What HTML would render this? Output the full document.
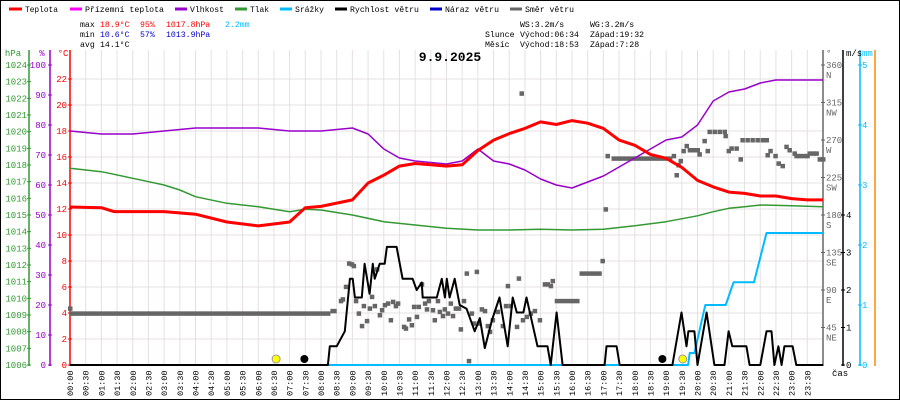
<!DOCTYPE html>
<html><head><meta charset="utf-8">
<style>
html,body{margin:0;padding:0;background:#fff}
svg{display:block}
text{font-family:"Liberation Mono",monospace}
</style></head>
<body>
<svg id="chart" width="900" height="400" viewBox="0 0 900 400" xmlns="http://www.w3.org/2000/svg">
<rect x="0.5" y="0.5" width="899" height="399" fill="#fff" stroke="#000"/>
<g id="grid"></g>
<g id="legend" font-size="8.2">
 <g><line x1="9" y1="9" x2="22" y2="9" stroke="#f00" stroke-width="3"/><text x="25" y="12" textLength="33" lengthAdjust="spacingAndGlyphs">Teplota</text></g>
 <g><line x1="70" y1="9" x2="82" y2="9" stroke="#f0f" stroke-width="3"/><text x="85" y="12" textLength="79" lengthAdjust="spacingAndGlyphs">Přízemní teplota</text></g>
 <g><line x1="175" y1="9" x2="187" y2="9" stroke="#90c" stroke-width="3"/><text x="190" y="12" textLength="34" lengthAdjust="spacingAndGlyphs">Vlhkost</text></g>
 <g><line x1="235" y1="9" x2="247" y2="9" stroke="#393" stroke-width="3"/><text x="250" y="12" textLength="19" lengthAdjust="spacingAndGlyphs">Tlak</text></g>
 <g><line x1="280" y1="9" x2="292" y2="9" stroke="#0bf" stroke-width="3"/><text x="295" y="12" textLength="29" lengthAdjust="spacingAndGlyphs">Srážky</text></g>
 <g><line x1="335" y1="9" x2="347" y2="9" stroke="#000" stroke-width="3"/><text x="350" y="12" textLength="69" lengthAdjust="spacingAndGlyphs">Rychlost větru</text></g>
 <g><line x1="430" y1="9" x2="442" y2="9" stroke="#00c" stroke-width="3"/><text x="445" y="12" textLength="54" lengthAdjust="spacingAndGlyphs">Náraz větru</text></g>
 <g><line x1="510" y1="9" x2="522" y2="9" stroke="#666" stroke-width="3"/><text x="525" y="12" textLength="49" lengthAdjust="spacingAndGlyphs">Směr větru</text></g>
</g>
<g id="stats" font-size="8.2">
 <text x="80" y="27">max</text><text x="100" y="27" fill="#f00">18.9°C</text><text x="140" y="27" fill="#f00">95%</text><text x="166" y="27" fill="#f00">1017.8hPa</text><text x="225" y="27" fill="#0bf">2.2mm</text>
 <text x="80" y="37">min</text><text x="100" y="37" fill="#00c">10.6°C</text><text x="140" y="37" fill="#00c">57%</text><text x="166" y="37" fill="#00c">1013.9hPa</text>
 <text x="80" y="47">avg</text><text x="100" y="47">14.1°C</text>
 <text x="520" y="27">WS:3.2m/s</text><text x="590" y="27">WG:3.2m/s</text>
 <text x="485" y="37">Slunce</text><text x="520" y="37">Východ:06:34</text><text x="590" y="37">Západ:19:32</text>
 <text x="485" y="47">Měsíc</text><text x="520" y="47">Východ:18:53</text><text x="590" y="47">Západ:7:28</text>
</g>
<text x="450" y="61" text-anchor="middle" font-size="13" font-weight="bold">9.9.2025</text>
<g id="axes"></g>
<g id="series"></g>
</svg>
<script>
const tempT=[0,1,1.4,2,3,4,5,6,7,7.5,8,9,9.5,10,10.5,11,11.5,12,12.5,13,13.5,14,14.5,15,15.5,16,16.5,17,17.5,18,18.5,19,19.5,20,20.5,21,21.5,22,22.5,23,23.5,24];
const tempV=[12.15,12.1,11.8,11.8,11.8,11.6,11.0,10.7,11.0,12.1,12.2,12.7,14.0,14.6,15.3,15.5,15.4,15.3,15.4,16.5,17.3,17.8,18.2,18.7,18.5,18.8,18.6,18.2,17.3,16.9,16.2,15.9,15.2,14.2,13.7,13.3,13.2,13.0,13.0,12.8,12.7,12.7];
const humT=[0,1,2,3,4,5,6,7,8,9,9.5,10,10.5,11,12,12.5,13,13.5,14,14.5,15,15.5,16,16.5,17,17.5,18,18.5,19,19.5,20,20.5,21,21.5,22,22.5,23,24];
const humV=[78,77,77,78,79,79,79,78,78,79,77,72,69,68,67,68,72,68,67,65,62,60,59,61,63,66,69,72,75,76,80,88,91,92,94,95,95,95];
const presT=[0,1,2,3,3.5,4,5,6,7,7.5,8,9,10,11,12,13,14,15,16,17,18,19,20,20.5,21,21.5,22,23,24];
const presV=[1017.8,1017.6,1017.2,1016.8,1016.5,1016.1,1015.7,1015.5,1015.2,1015.35,1015.3,1015.0,1014.6,1014.4,1014.2,1014.1,1014.1,1014.15,1014.1,1014.15,1014.35,1014.6,1014.95,1015.2,1015.4,1015.5,1015.6,1015.55,1015.5];
const windT=[0,8.22,8.28,8.5,8.76,8.92,9.01,9.08,9.3,9.39,9.55,9.65,9.71,9.87,10.03,10.1,10.41,10.6,10.92,11.05,11.21,11.24,11.56,11.69,11.85,11.95,12.01,12.1,12.26,12.42,12.64,12.9,13.06,13.22,13.45,13.69,13.95,14.11,14.24,14.45,14.55,14.9,15.22,15.32,15.51,15.7,17.04,17.1,17.42,17.52,19.2,19.49,19.65,19.71,19.9,20.0,20.29,20.54,20.86,20.99,21.11,21.56,21.66,22.0,22.2,22.36,22.45,22.58,22.68,22.77,23.03,23.15,24];
const windV=[0,0,0.5,0.5,0.9,2.3,2.3,1.8,1.8,2.7,1.9,2.7,2.3,2.7,2.7,3.15,3.15,2.3,2.3,2.0,2.2,1.8,1.8,1.8,2.3,1.8,2.3,1.8,2.3,1.6,1.5,0.9,1.25,0.45,1.2,1.8,0.5,1.8,1.4,1.4,1.8,0.5,0.5,0,1.4,0,0,0.5,0.5,0,0,1.4,0.5,0.9,0.9,0,1.4,0,0,0.9,0.5,0.5,0,0,0.9,0.9,0,0.5,0,0.5,0.5,0,0];
const rainT=[8.2,19.7,19.75,19.9,20.25,20.9,21.15,21.8,22.2,24];
const rainV=[0,0,0.2,0.2,1.0,1.0,1.38,1.38,2.2,2.2];
const dirSegStart=[0,8.3,15.45,16.24,17.26];
const dirSegEnd=[8.3,8.5,16.24,16.95,19.2];
const dirSegDeg=[62,65,77,110,248];
const dirT=[0,8.63,8.69,8.79,8.89,8.98,9.04,9.11,9.2,9.3,9.36,9.46,9.55,9.62,9.71,9.78,9.87,9.94,10.03,10.13,10.22,10.29,10.38,10.45,10.64,10.7,10.8,10.89,10.96,11.05,11.11,11.21,11.31,11.37,11.43,11.56,11.62,11.72,11.78,11.88,11.94,12.04,12.13,12.2,12.29,12.39,12.45,12.55,12.64,12.71,12.8,12.87,12.96,13.03,13.12,13.22,13.31,13.38,13.47,13.63,13.79,13.89,13.95,14.04,14.24,14.3,14.39,14.43,14.55,14.68,14.81,14.97,15.13,15.22,15.32,15.38,16.97,17.07,17.13,19.24,19.33,19.39,19.46,19.55,19.65,19.75,19.87,20.0,20.06,20.22,20.32,20.38,20.54,20.7,20.86,20.89,20.99,21.08,21.24,21.37,21.43,21.59,21.75,21.91,22.07,22.2,22.23,22.32,22.48,22.58,22.71,22.83,22.93,23.09,23.15,23.25,23.38,23.5,23.57,23.69,23.79,23.89,24];
const dirD=[68,77,79,94,122,121,119,77,62,47,71,53,68,82,71,115,60,66,72,74,54,76,71,74,46,44,55,48,70,58,70,97,74,67,77,66,54,77,64,59,67,62,74,59,68,68,43,77,110,5,62,50,112,50,67,65,47,40,54,64,47,71,95,71,46,104,326,54,58,62,65,54,97,97,95,101,125,187,251,251,228,240,245,257,263,258,258,258,253,269,257,280,280,280,280,275,257,260,260,247,270,270,270,270,270,270,252,257,251,242,239,262,258,254,251,251,251,251,254,254,254,247,247];
const hpaTicks=[1006,1007,1008,1009,1010,1011,1012,1013,1014,1015,1016,1017,1018,1019,1020,1021,1022,1023,1024];
const humTicks=[0,10,20,30,40,50,60,70,80,90,100];
const tempTicks=[0,2,4,6,8,10,12,14,16,18,20,22];
const dirTicks=[45,90,135,180,225,270,315,360];
const dirNames=["NE","E","SE","S","SW","W","NW","N"];
const wsTicks=[0,1,2,3,4];
const mmTicks=[0,1,2,3,4,5];
const sunT=[6.57,19.53];
const moonT=[7.47,18.88];

const NS="http://www.w3.org/2000/svg";
const X0=70,X1=823,Y0=365,YT=50;
const xs=t=>X0+t*(X1-X0)/24;
const yT=v=>Y0-v*13;
const yH=v=>Y0-v*3;
const yP=v=>Y0-(v-1006)*300/18;
const yW=v=>Y0-v*300/8;
const yR=v=>Y0-v*60;
const yD=v=>Y0-v*300/360;
function mk(tag,attrs,parent){const e=document.createElementNS(NS,tag);for(const k in attrs)e.setAttribute(k,attrs[k]);parent.appendChild(e);return e;}
const grid=document.getElementById('grid'),axes=document.getElementById('axes'),ser=document.getElementById('series');
for(let i=0;i<=48;i++){const x=xs(i/2);const l=mk('line',{x1:x,y1:YT,x2:x,y2:Y0,stroke:'#e4e0e0'},grid);

}
for(const v of tempTicks){if(v===0)continue;const l=mk('line',{x1:X0,y1:yT(v),x2:X1,y2:yT(v),stroke:'#e4e0e0'},grid);

}
function vaxis(x,color,name){const l=mk('line',{x1:x,y1:YT,x2:x,y2:Y0+1,stroke:color,'stroke-width':1.5},axes);

}
vaxis(29,'#393','hpa-axis');vaxis(50,'#90c','humidity-axis');vaxis(70,'#f00','temperature-axis');
vaxis(823,'#666','direction-axis');vaxis(843,'#000','wind-speed-axis');vaxis(860,'#0bf','rain-axis');vaxis(875,'#f80','orange-axis');
function tick(x,y,txt,color,anchor,tx,name){mk('line',{x1:x-2,y1:y,x2:x+2,y2:y,stroke:color},axes);
const t=mk('text',{x:tx,y:y+3,fill:color,'font-size':9,'text-anchor':anchor},axes);t.textContent=txt;

}
hpaTicks.forEach(v=>tick(29,yP(v),v,'#393','end',27,'hpa-tick-label'));
humTicks.forEach(v=>tick(50,yH(v),v,'#90c','end',46,'humidity-tick-label'));
tempTicks.forEach(v=>tick(70,yT(v),v,'#f00','end',67,'temperature-tick-label'));
dirTicks.forEach((v,i)=>{tick(823,yD(v),v,'#666','start',826,'direction-tick-label');const n=mk('text',{x:826,y:yD(v)+13,fill:'#666','font-size':9},axes);n.textContent=dirNames[i];

});
wsTicks.forEach(v=>tick(843,yW(v),v,'#000','start',846,'wind-speed-tick-label'));
mmTicks.forEach(v=>tick(860,yR(v),v,'#0bf','start',862,'rain-tick-label'));
[['hPa',13,'#393'],['%',42,'#90c'],['°C',63,'#f00'],['°',826,'#666'],['m/s',846,'#000'],['mm',862,'#0bf']].forEach(a=>{const t=mk('text',{x:a[1],y:56,fill:a[2],'font-size':9,'text-anchor':a[1]<100?'middle':'start'},axes);t.textContent=a[0];

});
for(let i=0;i<48;i++){const h=Math.floor(i/2),m=i%2?'30':'00';const x=xs(i/2);
const t=mk('text',{x:0,y:0,'font-size':8.5,transform:`translate(${x+3},396) rotate(-90)`},axes);t.textContent=(h<10?'0':'')+h+':'+m;

}
const cas=mk('text',{x:832,y:376,'font-size':9},axes);cas.textContent='čas';


dirSegStart.forEach((s,i)=>{const r=mk('rect',{x:xs(s),y:yD(dirSegDeg[i])-2,width:xs(dirSegEnd[i])-xs(s),height:4.5,fill:'#666'},ser);

});
dirT.forEach((t,i)=>{const r=mk('rect',{x:xs(t)-2,y:yD(dirD[i])-2,width:4.5,height:4.5,fill:'#666'},ser);

});
function path(T,V,yf,color,w,name){const d=T.map((t,i)=>(i?'L':'M')+xs(t).toFixed(1)+','+yf(V[i]).toFixed(1)).join('');
const p=mk('path',{d:d,fill:'none',stroke:color,'stroke-width':w,'stroke-linejoin':'round'},ser);

}
path(presT,presV,yP,'#393',1.5,'pressure-line');
path(humT,humV,yH,'#90c',1.5,'humidity-line');
path(tempT,tempV,yT,'#f00',3,'temperature-line');
path(rainT,rainV,yR,'#0bf',2,'rain-line');
path(windT,windV,yW,'#000',2,'wind-speed-line');
sunT.forEach(t=>{const c=mk('circle',{cx:xs(t),cy:359,r:4,fill:'#ff0',stroke:'#999'},ser);

});
moonT.forEach(t=>{const c=mk('circle',{cx:xs(t),cy:359,r:4,fill:'#000'},ser);

});
</script>
</body></html>
